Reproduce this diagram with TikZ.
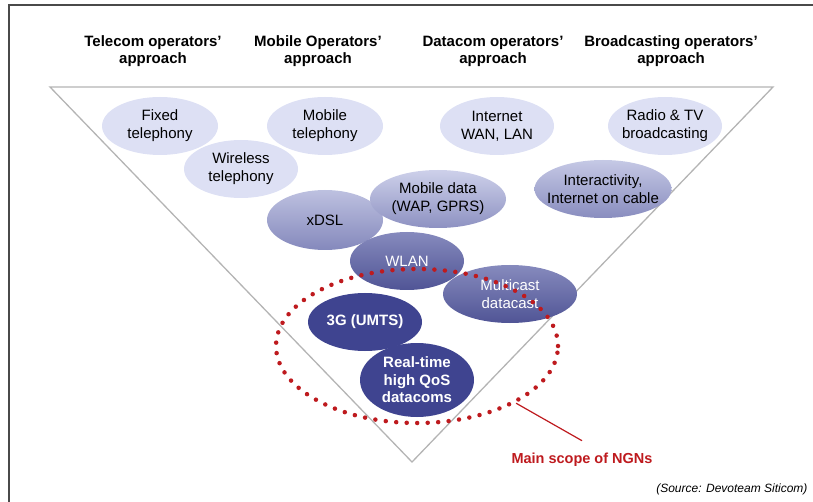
\documentclass[tikz,border=0pt]{standalone}
\usepackage{fontspec}
\setmainfont{Liberation Sans}
\usetikzlibrary{shapes.geometric}

\definecolor{framegray}{HTML}{4A4A4A}
\definecolor{edgegray}{HTML}{B4B4B4}
\definecolor{paleblue}{HTML}{DDE0F4}
\definecolor{deepblue}{HTML}{3F4490}
\definecolor{scopered}{HTML}{BE1A1E}

\tikzset{
  tech/.style={ellipse, minimum width=#1, minimum height=58pt,
    inner xsep=-15pt, inner ysep=-10pt,
    align=center, font=\fontsize{15}{18}\selectfont},
  tech/.default=114pt,
  pale/.style={fill=paleblue},
  midshade/.style={top color=#1, bottom color=#1!55!deepblue},
  darkshade/.style={top color=#1, bottom color=#1!30!deepblue!95!black, text=white},
  solid/.style={fill=deepblue, text=white, font=\fontsize{15}{17.5}\selectfont\bfseries},
  approach/.style={align=center, font=\fontsize{15}{17}\selectfont\bfseries},
}

\begin{document}
\begin{tikzpicture}[x=1pt,y=-1pt]
\useasboundingbox (0,0) rectangle (813,502);

% frame
\coordinate (F1) at (9,502);
\coordinate (F2) at (9,5);
\coordinate (F3) at (813,5);
\draw[line width=2pt,framegray] (F1) -- (F2) -- (F3);

% approaches
\node[approach] (telecom) at (153,51) {Telecom operators'\\approach};
\node[approach] (mobile) at (318,51) {Mobile Operators'\\approach};
\node[approach] (datacom) at (493,51) {Datacom operators'\\approach};
\node[approach] (broadcast) at (671,51) {Broadcasting operators'\\approach};

% triangle
\coordinate (TL) at (50,87);
\coordinate (TR) at (773,87);
\coordinate (A) at (412,462);
\draw[edgegray,line width=1.3pt] (TL) -- (TR) -- (A) -- cycle;

% services, top row
\node[tech=116pt,pale] (fixed) at (160,126) {Fixed\\telephony};
\node[tech=116pt,pale] (mobtel) at (325,126) {Mobile\\telephony};
\node[tech,pale] (internet) at (497,126) {Internet\\WAN, LAN};
\node[tech,pale] (radio) at (665,126) {Radio \& TV\\broadcasting};
\node[tech,pale] (wireless) at (241,169) {Wireless\\telephony};

% services, middle
\node[tech=137pt,midshade=paleblue!85!deepblue] (interact) at (603,189) {Interactivity,\\Internet on cable};
\node[tech=116pt,minimum height=60pt,midshade=paleblue!80!deepblue] (xdsl) at (325,220) {xDSL};
\node[tech=136pt,midshade=paleblue!90!deepblue] (mobdata) at (438,199) {Mobile data\\(WAP, GPRS)};

% services, bottom
\node[tech,darkshade=paleblue!45!deepblue] (wlan) at (407,261) {WLAN};
\node[tech=134pt,darkshade=paleblue!45!deepblue] (multicast) at (510,294) {Multicast\\datacast};
\node[tech,solid] (umts) at (365,322) {3G (UMTS)};
\node[tech,minimum height=74pt,solid] (realtime) at (417,380) {Real-time\\high QoS\\datacoms};

% scope of NGNs
\node[ellipse,minimum width=282pt,minimum height=154pt,draw=scopered,line width=4.5pt,
  line cap=round,dash pattern=on 0pt off 10.5pt] (ngn) at (417,346) {};
\node[scopered,font=\fontsize{14.5}{17}\selectfont\bfseries] (ngnlabel) at (582,460) {Main scope of NGNs};
\draw[scopered,line width=1.2pt] (ngn.-30) -- ([yshift=9pt]ngnlabel.north);

% source
\node[anchor=east,font=\fontsize{12}{14}\selectfont\itshape] (source) at (811,489) {(Source: Devoteam Siticom)};

\end{tikzpicture}
\end{document}
